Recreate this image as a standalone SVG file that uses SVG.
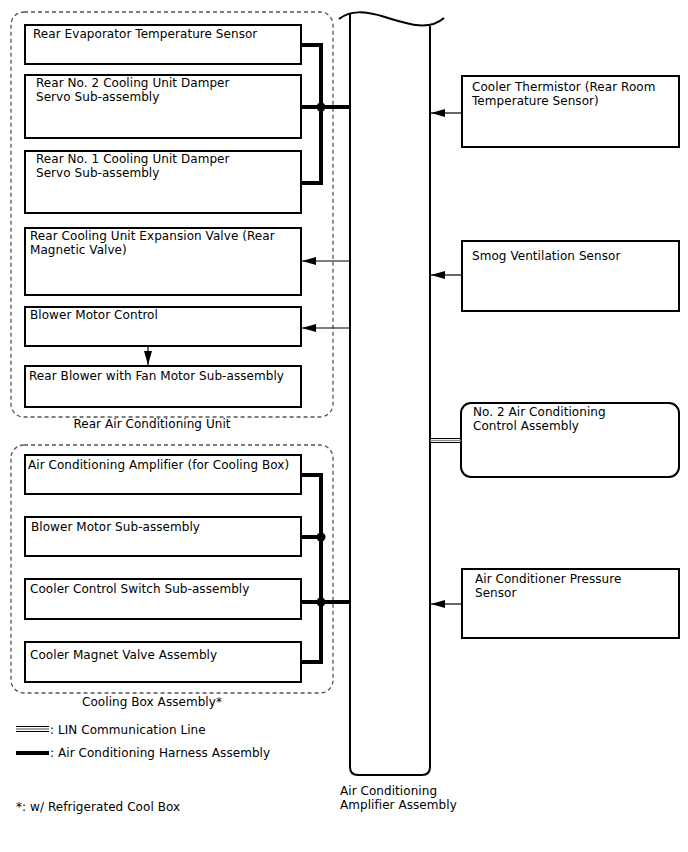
<svg xmlns="http://www.w3.org/2000/svg" width="688" height="852" viewBox="0 0 688 852">
<style>
text{font-family:"DejaVu Sans",sans-serif;font-size:12px;fill:#000;letter-spacing:0.06px}
.box{fill:#fff;stroke:#000;stroke-width:2}
.grp{fill:none;stroke:#555;stroke-width:1.3;stroke-dasharray:4 3}
.bus{fill:none;stroke:#000;stroke-width:4}
.sig{fill:none;stroke:#000;stroke-width:1.2}
.amp{fill:none;stroke:#000;stroke-width:2}
</style>
<defs>
<marker id="ah" markerWidth="14" markerHeight="8" refX="14" refY="4" orient="auto" markerUnits="userSpaceOnUse">
<path d="M0,0 L14,4 L0,8 Z" fill="#000"/>
</marker>
</defs>
<g id="rear-ac-unit">
<rect class="grp" x="11" y="12" width="322" height="405" rx="13"/>
<text x="152" y="428" text-anchor="middle">Rear Air Conditioning Unit</text>
</g>
<g id="cooling-box">
<rect class="grp" x="11" y="445" width="322" height="248" rx="13"/>
<text x="152" y="706" text-anchor="middle">Cooling Box Assembly*</text>
</g>
<g id="amplifier">
<path class="amp" d="M350,14 V767 Q350,775 358,775 H422 Q430,775 430,767 V26"/>
<path class="amp" d="M339,19 C350,10 365,11 385,17 C405,23 428,32 444,18"/>
<text x="340" y="795">Air Conditioning</text>
<text x="340" y="809">Amplifier Assembly</text>
</g>
<g id="n1"><rect class="box" x="25" y="25" width="276" height="39"/><text x="33" y="38">Rear Evaporator Temperature Sensor</text></g>
<g id="n2"><rect class="box" x="25" y="75" width="276" height="63"/><text x="36" y="87">Rear No. 2 Cooling Unit Damper</text><text x="36" y="101">Servo Sub-assembly</text></g>
<g id="n3"><rect class="box" x="25" y="151" width="276" height="62"/><text x="36" y="163">Rear No. 1 Cooling Unit Damper</text><text x="36" y="177">Servo Sub-assembly</text></g>
<g id="n4"><rect class="box" x="25" y="228" width="276" height="67"/><text x="30" y="240">Rear Cooling Unit Expansion Valve (Rear</text><text x="30" y="254">Magnetic Valve)</text></g>
<g id="n5"><rect class="box" x="25" y="307" width="276" height="39"/><text x="30" y="319">Blower Motor Control</text></g>
<g id="n6"><rect class="box" x="25" y="366" width="276" height="41"/><text x="29" y="380">Rear Blower with Fan Motor Sub-assembly</text></g>
<g id="n7"><rect class="box" x="25" y="455" width="276" height="39"/><text x="28" y="469">Air Conditioning Amplifier (for Cooling Box)</text></g>
<g id="n8"><rect class="box" x="25" y="517" width="276" height="39"/><text x="31" y="531">Blower Motor Sub-assembly</text></g>
<g id="n9"><rect class="box" x="25" y="579" width="276" height="40"/><text x="30" y="593">Cooler Control Switch Sub-assembly</text></g>
<g id="n10"><rect class="box" x="25" y="642" width="276" height="40"/><text x="30" y="659">Cooler Magnet Valve Assembly</text></g>
<g id="r1"><rect class="box" x="462" y="76" width="217" height="71"/><text x="472" y="91">Cooler Thermistor (Rear Room</text><text x="472" y="105">Temperature Sensor)</text></g>
<g id="r2"><rect class="box" x="462" y="241" width="217" height="70"/><text x="472" y="260">Smog Ventilation Sensor</text></g>
<g id="r3"><rect class="box" x="461" y="403" width="218" height="74" rx="10"/><text x="473" y="416">No. 2 Air Conditioning</text><text x="473" y="430">Control Assembly</text></g>
<g id="r4"><rect class="box" x="462" y="569" width="217" height="69"/><text x="475" y="583">Air Conditioner Pressure</text><text x="475" y="597">Sensor</text></g>
<g id="connectors">
<path class="bus" d="M301,45 H321 V183 H301"/>
<path class="bus" d="M301,107 H350"/>
<circle cx="321" cy="107" r="4.5"/>
<path class="bus" d="M301,475 H321 V662 H301"/>
<path class="bus" d="M301,537 H321"/>
<path class="bus" d="M301,602 H350"/>
<circle cx="321" cy="537" r="4.5"/>
<circle cx="321" cy="602" r="4.5"/>
<path class="sig" d="M350,261 H302" marker-end="url(#ah)"/>
<path class="sig" d="M350,328 H302" marker-end="url(#ah)"/>
<path class="sig" d="M148,347 V365" marker-end="url(#ah)"/>
<path class="sig" d="M462,113 H431" marker-end="url(#ah)"/>
<path class="sig" d="M462,275 H431" marker-end="url(#ah)"/>
<path class="sig" d="M462,604 H431" marker-end="url(#ah)"/>
<path d="M430,438.5 H461 M430,442.5 H461" stroke="#000" stroke-width="1.2"/>
<path d="M430,440.5 H461" stroke="#888" stroke-width="1.3"/>
</g>
<g id="legend">
<path d="M16,726.5 H49 M16,731.5 H49" stroke="#000" stroke-width="1.2"/>
<path d="M16,729 H49" stroke="#888" stroke-width="1.5"/>
<text x="50" y="734">: LIN Communication Line</text>
<path d="M16,753 H49" stroke="#000" stroke-width="4"/>
<text x="50" y="757">: Air Conditioning Harness Assembly</text>
<text x="16" y="811">*: w/ Refrigerated Cool Box</text>
</g>
</svg>
